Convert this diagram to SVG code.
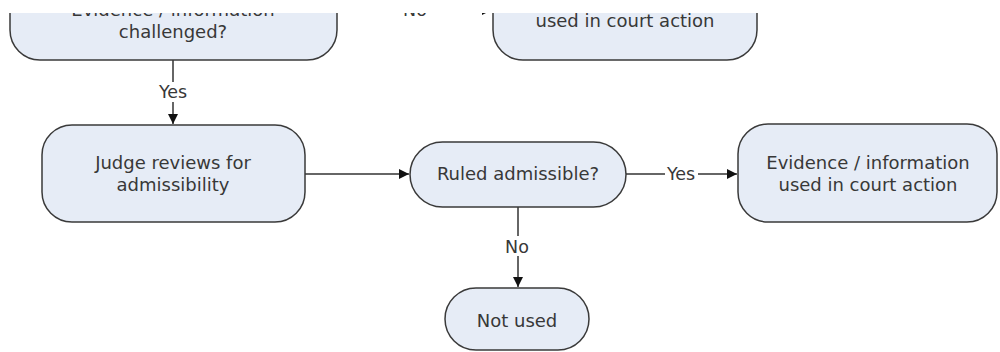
<svg xmlns="http://www.w3.org/2000/svg" width="1000" height="352" viewBox="0 0 1000 352">
  <style>
    .box { fill: #e6ecf6; stroke: #3a3a3a; stroke-width: 1.5; }
    .lbl { font-family: "DejaVu Sans", Verdana, sans-serif; font-size: 18px; fill: #383838; text-anchor: middle; }
    .edge { fill: none; stroke: #333333; stroke-width: 1.5; }
    .tag { font-family: "DejaVu Sans", Verdana, sans-serif; font-size: 17.5px; fill: #383838; text-anchor: middle; }
    .tagbg { fill: #ffffff; }
  </style>
  <defs>
    <marker id="arrow" viewBox="0 0 10 10" refX="10" refY="5" markerWidth="10" markerHeight="10" markerUnits="userSpaceOnUse" orient="auto">
      <path d="M0,0 L10,5 L0,10 z" fill="#111111"/>
    </marker>
    <clipPath id="page">
      <rect x="0" y="13" width="1000" height="339"/>
    </clipPath>
  </defs>
  <rect width="1000" height="352" fill="#ffffff"/>

  <g clip-path="url(#page)">
    <!-- connectors -->
    <g id="connectors">
      <path class="edge" d="M337,10 H492" marker-end="url(#arrow)"/>
      <rect class="tagbg" x="401" y="0" width="28" height="19"/>
      <text class="tag" x="415" y="16">No</text>

      <path class="edge" d="M173,60 V124" marker-end="url(#arrow)"/>
      <rect class="tagbg" x="156" y="82" width="34" height="20"/>
      <text class="tag" x="173" y="98">Yes</text>

      <path class="edge" d="M305,174 H409" marker-end="url(#arrow)"/>

      <path class="edge" d="M626,174 H737" marker-end="url(#arrow)"/>
      <rect class="tagbg" x="665" y="165" width="33" height="18"/>
      <text class="tag" x="681" y="180">Yes</text>

      <path class="edge" d="M518,207 V287" marker-end="url(#arrow)"/>
      <rect class="tagbg" x="503" y="236" width="29" height="20"/>
      <text class="tag" x="517" y="253">No</text>
    </g>

    <!-- nodes -->
    <g id="challenged">
      <rect class="box" x="10" y="-20" width="327" height="80" rx="30" ry="30"/>
      <text class="lbl" x="173" y="16">Evidence / information</text>
      <text class="lbl" x="173" y="38">challenged?</text>
    </g>

    <g id="used-top">
      <rect class="box" x="493" y="-40" width="264" height="100" rx="30" ry="30"/>
      <text class="lbl" x="625" y="27">used in court action</text>
    </g>

    <g id="judge">
      <rect class="box" x="42" y="125" width="263" height="97" rx="30" ry="30"/>
      <text class="lbl" x="173" y="169">Judge reviews for</text>
      <text class="lbl" x="173" y="191">admissibility</text>
    </g>

    <g id="ruled">
      <rect class="box" x="410" y="142" width="216" height="65" rx="32.5" ry="32.5"/>
      <text class="lbl" x="518" y="180">Ruled admissible?</text>
    </g>

    <g id="used">
      <rect class="box" x="738" y="124" width="259" height="98" rx="30" ry="30"/>
      <text class="lbl" x="868" y="169">Evidence / information</text>
      <text class="lbl" x="868" y="191">used in court action</text>
    </g>

    <g id="not-used">
      <rect class="box" x="445" y="288" width="144" height="62" rx="31" ry="31"/>
      <text class="lbl" x="517" y="327">Not used</text>
    </g>
  </g>
</svg>
